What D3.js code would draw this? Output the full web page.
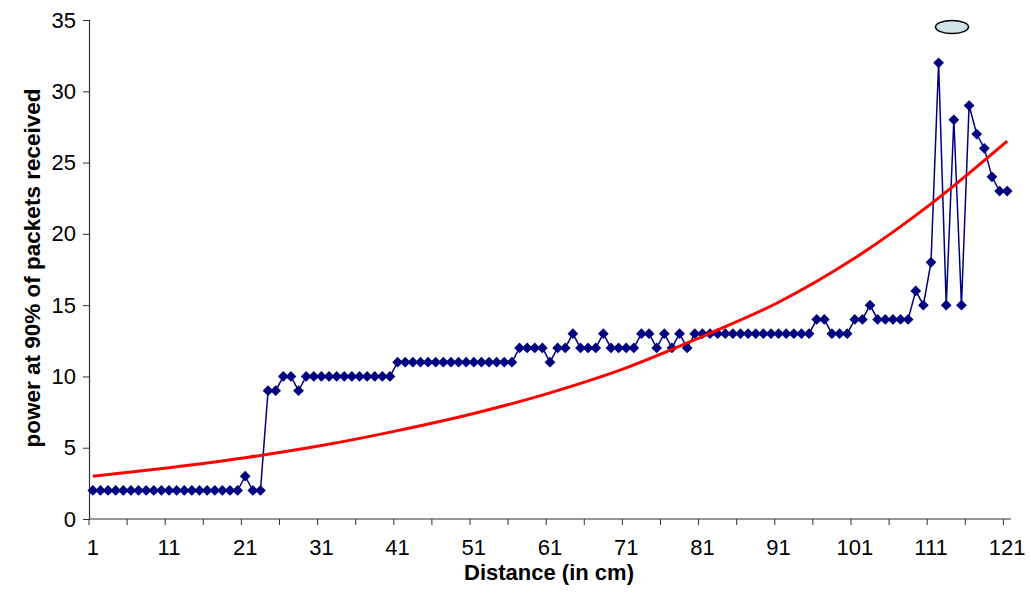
<!DOCTYPE html>
<html lang="en">
<head>
    <title>Power vs distance</title>
    <meta charset="UTF-8">
    <script src="https://cdn.jsdelivr.net/npm/d3@7"></script>
    <style>
        body { margin: 0; background: #fff; }
        text { font-family: Arial, "Liberation Sans", sans-serif; }
    </style>
</head>
<body>
<div id="chart"></div>

<script type="text/javascript">

  // distance categories 1..121 (cm)
  const distances = d3.range(1, 122);

  // power at 90% of packets received, one value per distance
  const power = [
      2, 2, 2, 2, 2, 2, 2, 2, 2, 2,      // 1-10
      2, 2, 2, 2, 2, 2, 2, 2, 2, 2,      // 11-20
      3, 2, 2, 9, 9, 10, 10, 9, 10, 10,  // 21-30
      10, 10, 10, 10, 10, 10, 10, 10, 10, 10, // 31-40
      11, 11, 11, 11, 11, 11, 11, 11, 11, 11, // 41-50
      11, 11, 11, 11, 11, 11, 12, 12, 12, 12, // 51-60
      11, 12, 12, 13, 12, 12, 12, 13, 12, 12, // 61-70
      12, 12, 13, 13, 12, 13, 12, 13, 12, 13, // 71-80
      13, 13, 13, 13, 13, 13, 13, 13, 13, 13, // 81-90
      13, 13, 13, 13, 13, 14, 14, 13, 13, 13, // 91-100
      14, 14, 15, 14, 14, 14, 14, 14, 16, 15, // 101-110
      18, 32, 15, 28, 15, 29, 27, 26, 24, 23, // 111-120
      23                                      // 121
  ];

  // trend line at every tenth distance
  const trendDistances = [1, 11, 21, 31, 41, 51, 61, 71, 81, 91, 101, 111, 121];
  const trendValues    = [3.0, 3.6, 4.3, 5.15, 6.2, 7.4, 8.85, 10.6, 12.8, 15.2, 18.3, 22.1, 26.5];

  const yTicks     = [0, 5, 10, 15, 20, 25, 30, 35];
  const xLabelCats = [1, 11, 21, 31, 41, 51, 61, 71, 81, 91, 101, 111, 121];
  const xTickCats  = d3.range(1, 122, 5);

  const width = 1031, height = 607;
  const plotLeft = 89, plotRight = 1011, plotTop = 20, plotBottom = 519;
  const fontFamily = 'Arial, "Liberation Sans", sans-serif';

  const svg = d3.select('#chart').append('svg')
      .attr('width', width)
      .attr('height', height);

  const x = d3.scaleBand().domain(distances).range([plotLeft, plotRight]).padding(0);
  const y = d3.scaleLinear().domain([0, 35]).range([plotBottom, plotTop]);
  const cx = d => x(d) + x.bandwidth() / 2;

  // y axis
  const yAxis = svg.append('g')
      .attr('transform', `translate(${plotLeft},0)`)
      .call(d3.axisLeft(y).tickValues(yTicks).tickSize(6).tickPadding(7));
  yAxis.select('.domain').attr('stroke', '#333').attr('stroke-width', 1.2);
  yAxis.selectAll('.tick line').attr('stroke', '#333');
  yAxis.selectAll('.tick text')
      .attr('font-size', 22)
      .attr('font-family', fontFamily)
      .attr('fill', '#000');

  // x axis: labels at category centres, ticks at category boundaries
  const xAxis = svg.append('g')
      .attr('transform', `translate(0,${plotBottom})`)
      .call(d3.axisBottom(x).tickValues(xLabelCats).tickSize(0).tickPadding(20));
  xAxis.select('.domain').remove();
  xAxis.selectAll('.tick text')
      .attr('font-size', 22)
      .attr('font-family', fontFamily)
      .attr('fill', '#000');
  svg.append('line')
      .attr('x1', plotLeft).attr('x2', plotRight)
      .attr('y1', plotBottom).attr('y2', plotBottom)
      .attr('stroke', '#333').attr('stroke-width', 1.2);
  svg.selectAll('line.xtick')
      .data(xTickCats)
      .join('line')
      .attr('class', 'xtick')
      .attr('x1', d => x(d)).attr('x2', d => x(d))
      .attr('y1', plotBottom).attr('y2', plotBottom + 6)
      .attr('stroke', '#333');

  // axis titles
  svg.append('text')
      .attr('x', 549).attr('y', 580)
      .attr('text-anchor', 'middle')
      .attr('font-size', 22).attr('font-weight', 'bold')
      .text('Distance (in cm)');
  svg.append('text')
      .attr('transform', 'translate(40,268) rotate(-90)')
      .attr('text-anchor', 'middle')
      .attr('font-size', 22.5).attr('font-weight', 'bold')
      .text('power at 90% of packets received');

  // data series
  const line = d3.line().x((d, i) => cx(distances[i])).y(d => y(d));
  svg.append('path')
      .datum(power)
      .attr('d', line)
      .attr('fill', 'none')
      .attr('stroke', '#000080')
      .attr('stroke-width', 1.5);

  const diamond = d3.symbol().type(d3.symbolSquare).size(58);
  svg.selectAll('path.pt')
      .data(power)
      .join('path')
      .attr('class', 'pt')
      .attr('d', diamond)
      .attr('transform', (d, i) => `translate(${cx(distances[i])},${y(d)}) rotate(45)`)
      .attr('fill', '#000080');

  // trend line
  const trend = d3.line()
      .x((d, i) => cx(trendDistances[i]))
      .y(d => y(d))
      .curve(d3.curveMonotoneX);
  svg.append('path')
      .datum(trendValues)
      .attr('d', trend)
      .attr('fill', 'none')
      .attr('stroke', '#ff0000')
      .attr('stroke-width', 3);

  // annotation ellipse above the peak
  svg.append('ellipse')
      .attr('cx', 952).attr('cy', 27)
      .attr('rx', 16.5).attr('ry', 6.5)
      .attr('fill', '#cfe5ea')
      .attr('stroke', '#000')
      .attr('stroke-width', 1.5);

</script>
</body>
</html>
